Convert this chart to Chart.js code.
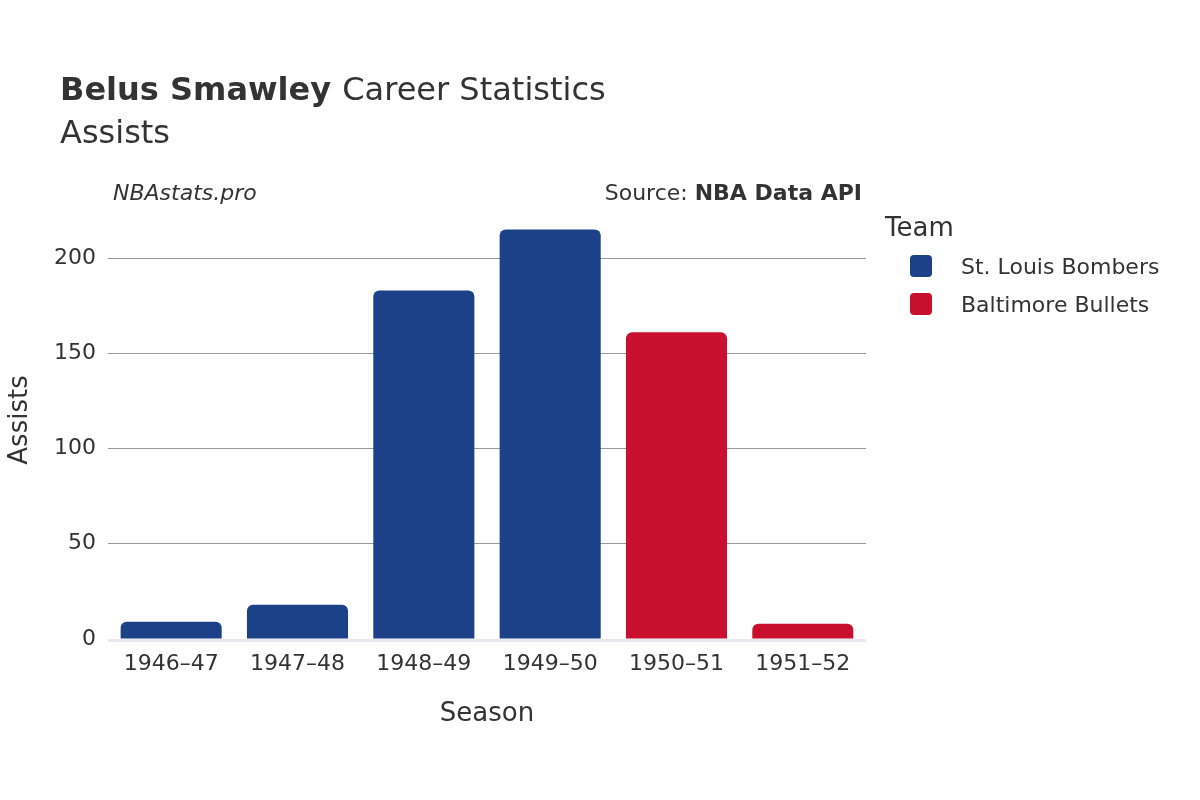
<!DOCTYPE html>
<html><head><meta charset="utf-8">
<script src="https://cdn.jsdelivr.net/npm/chart.js@4"></script>
<style>body{margin:0;background:#fff}#c{display:block}</style>
</head><body>
<div style="width:1200px;height:800px"><canvas id="c" width="1200" height="800"></canvas></div>
<script>
const seasons = ['1946–47', '1947–48', '1948–49', '1949–50', '1950–51', '1951–52'];
const bombers = [9, 18, 183, 215, null, null];
const bullets = [null, null, null, null, 161, 8];
const teams = ['St. Louis Bombers', 'Baltimore Bullets'];
const colors = ['#1c4189', '#c8102e'];
const yTicks = [0, 50, 100, 150, 200];

const F = 'DejaVu Sans, sans-serif';

const decor = {
    id: 'decor',
    afterDraw(chart) {
        const ctx = chart.ctx;
        ctx.save();
        ctx.fillStyle = '#333';
        ctx.textBaseline = 'alphabetic';
        ctx.textAlign = 'left';
        ctx.font = 'bold 32px ' + F;
        ctx.fillText('Belus Smawley', 60, 100);
        const w = ctx.measureText('Belus Smawley ').width;
        ctx.font = '32px ' + F;
        ctx.fillText('Career Statistics', 60 + w, 100);
        ctx.fillText('Assists', 60, 143);
        ctx.font = 'italic 22px ' + F;
        ctx.fillText('NBAstats.pro', 113, 200);
        ctx.textAlign = 'right';
        ctx.font = 'bold 22px ' + F;
        ctx.fillText('NBA Data API', 862, 200);
        const bw = ctx.measureText('NBA Data API').width;
        ctx.font = '22px ' + F;
        ctx.fillText('Source: ', 862 - bw, 200);
        // axis titles
        ctx.textAlign = 'center';
        ctx.font = '26px ' + F;
        ctx.fillText('Season', 487, 721);
        ctx.save();
        ctx.translate(27, 420);
        ctx.rotate(-Math.PI / 2);
        ctx.fillText('Assists', 0, 0);
        ctx.restore();
        // legend
        ctx.textAlign = 'left';
        ctx.fillText('Team', 885, 236);
        ctx.font = '22px ' + F;
        teams.forEach((t, i) => {
            const y = 266 + i * 38;
            ctx.fillStyle = colors[i];
            ctx.beginPath();
            ctx.roundRect(910, y - 11, 22, 22, 4);
            ctx.fill();
            ctx.fillStyle = '#333';
            ctx.fillText(t, 961, y + 8);
        });
        // baseline
        const ys = chart.scales.y.getPixelForValue(0);
        ctx.strokeStyle = '#e8e8ee';
        ctx.lineWidth = 3;
        ctx.beginPath();
        ctx.moveTo(chart.chartArea.left, ys + 1.5);
        ctx.lineTo(chart.chartArea.right, ys + 1.5);
        ctx.stroke();
        ctx.restore();
    }
};

new Chart(document.getElementById('c'), {
    type: 'bar',
    data: {
        labels: seasons,
        datasets: [
            { label: teams[0], data: bombers, backgroundColor: colors[0], borderRadius: 6, borderSkipped: 'bottom' },
            { label: teams[1], data: bullets, backgroundColor: colors[1], borderRadius: 6, borderSkipped: 'bottom' }
        ]
    },
    options: {
        responsive: false,
        animation: false,
        layout: { padding: { top: 220, right: 334, left: 0, bottom: 0 } },
        datasets: { bar: { barPercentage: 0.8, categoryPercentage: 1 } },
        scales: {
            x: {
                stacked: true,
                grid: { display: false },
                border: { display: false },
                ticks: { color: '#333', font: { size: 22, family: F }, padding: 4 },
                afterFit: s => { s.height = 161; }
            },
            y: {
                stacked: true,
                min: 0, max: 220,
                afterBuildTicks: s => { s.ticks = yTicks.map(v => ({ value: v })); },
                grid: { color: '#999', drawTicks: false },
                border: { display: false },
                ticks: { color: '#333', font: { size: 22, family: F }, padding: 12 },
                afterFit: s => { s.width = 108; }
            }
        },
        plugins: { legend: { display: false }, tooltip: { enabled: false } }
    },
    plugins: [decor]
});
</script>
</body></html>
